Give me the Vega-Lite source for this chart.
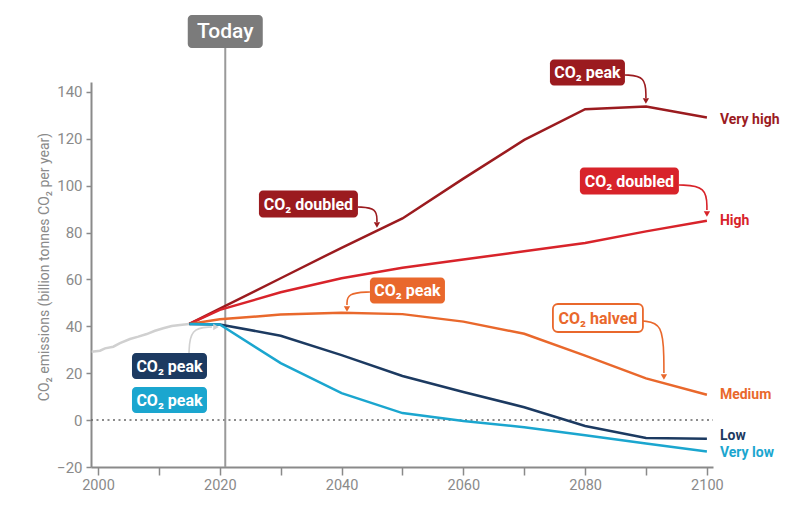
{
  "$schema": "https://vega.github.io/schema/vega-lite/v6.json",
  "width": 622,
  "height": 385,
  "autosize": {"type": "none"},
  "padding": {"left": 91, "top": 82, "right": 87, "bottom": 45},
  "background": "white",
  "config": {
    "view": {"stroke": null},
    "font": "Roboto, sans-serif"
  },
  "datasets": {
    "series": [
      {"scenario": "Historical", "year": 1998.96, "value": 29.2},
      {"scenario": "Historical", "year": 2000.33, "value": 29.6},
      {"scenario": "Historical", "year": 2001.15, "value": 30.6},
      {"scenario": "Historical", "year": 2002.51, "value": 31.3},
      {"scenario": "Historical", "year": 2003.61, "value": 32.8},
      {"scenario": "Historical", "year": 2005.25, "value": 34.6},
      {"scenario": "Historical", "year": 2006.62, "value": 35.6},
      {"scenario": "Historical", "year": 2008.0, "value": 36.7},
      {"scenario": "Historical", "year": 2009.36, "value": 38.1},
      {"scenario": "Historical", "year": 2010.72, "value": 39.2},
      {"scenario": "Historical", "year": 2012.1, "value": 40.1},
      {"scenario": "Historical", "year": 2013.46, "value": 40.6},
      {"scenario": "Historical", "year": 2015, "value": 41},
      {"scenario": "Very high", "year": 2015, "value": 41},
      {"scenario": "Very high", "year": 2020, "value": 47.5},
      {"scenario": "Very high", "year": 2030, "value": 60.5},
      {"scenario": "Very high", "year": 2040, "value": 73.5},
      {"scenario": "Very high", "year": 2050, "value": 86},
      {"scenario": "Very high", "year": 2060, "value": 103},
      {"scenario": "Very high", "year": 2070, "value": 119.5},
      {"scenario": "Very high", "year": 2080, "value": 132.6},
      {"scenario": "Very high", "year": 2090, "value": 133.7},
      {"scenario": "Very high", "year": 2100, "value": 129.1},
      {"scenario": "High", "year": 2015, "value": 41},
      {"scenario": "High", "year": 2020, "value": 47},
      {"scenario": "High", "year": 2030, "value": 54.5},
      {"scenario": "High", "year": 2040, "value": 60.5},
      {"scenario": "High", "year": 2050, "value": 65},
      {"scenario": "High", "year": 2060, "value": 68.5},
      {"scenario": "High", "year": 2070, "value": 72},
      {"scenario": "High", "year": 2080, "value": 75.5},
      {"scenario": "High", "year": 2090, "value": 80.5},
      {"scenario": "High", "year": 2100, "value": 85},
      {"scenario": "Medium", "year": 2015, "value": 41},
      {"scenario": "Medium", "year": 2020, "value": 43},
      {"scenario": "Medium", "year": 2030, "value": 45},
      {"scenario": "Medium", "year": 2040, "value": 45.8},
      {"scenario": "Medium", "year": 2050, "value": 45.2},
      {"scenario": "Medium", "year": 2060, "value": 42},
      {"scenario": "Medium", "year": 2070, "value": 36.8},
      {"scenario": "Medium", "year": 2080, "value": 27.5},
      {"scenario": "Medium", "year": 2090, "value": 17.8},
      {"scenario": "Medium", "year": 2100, "value": 10.8},
      {"scenario": "Low", "year": 2015, "value": 41},
      {"scenario": "Low", "year": 2020, "value": 40.8},
      {"scenario": "Low", "year": 2030, "value": 36},
      {"scenario": "Low", "year": 2040, "value": 27.7},
      {"scenario": "Low", "year": 2050, "value": 18.8},
      {"scenario": "Low", "year": 2060, "value": 12},
      {"scenario": "Low", "year": 2070, "value": 5.5},
      {"scenario": "Low", "year": 2080, "value": -2.5},
      {"scenario": "Low", "year": 2090, "value": -7.6},
      {"scenario": "Low", "year": 2100, "value": -8},
      {"scenario": "Very low", "year": 2015, "value": 41},
      {"scenario": "Very low", "year": 2020, "value": 40.8},
      {"scenario": "Very low", "year": 2030, "value": 24.3},
      {"scenario": "Very low", "year": 2040, "value": 11.5},
      {"scenario": "Very low", "year": 2050, "value": 3},
      {"scenario": "Very low", "year": 2060, "value": -0.4},
      {"scenario": "Very low", "year": 2070, "value": -3},
      {"scenario": "Very low", "year": 2080, "value": -6.5},
      {"scenario": "Very low", "year": 2090, "value": -10},
      {"scenario": "Very low", "year": 2100, "value": -13.4}
    ],
    "arrows": [
      {"scenario": "Very high", "id": "a1", "i": 0, "year": 2086.53, "value": 147.2},
      {"scenario": "Very high", "id": "a1", "i": 1, "year": 2089.98, "value": 146.8},
      {"scenario": "Very high", "id": "a1", "i": 2, "year": 2089.98, "value": 137.4},
      {"scenario": "Very high", "id": "a2", "i": 0, "year": 2042.69, "value": 90.89},
      {"scenario": "Very high", "id": "a2", "i": 1, "year": 2045.81, "value": 90.46},
      {"scenario": "Very high", "id": "a2", "i": 2, "year": 2045.81, "value": 84.49},
      {"scenario": "High", "id": "a3", "i": 0, "year": 2095.4, "value": 100.27},
      {"scenario": "High", "id": "a3", "i": 1, "year": 2100.0, "value": 99.84},
      {"scenario": "High", "id": "a3", "i": 2, "year": 2100.0, "value": 89.61},
      {"scenario": "Medium", "id": "a4", "i": 0, "year": 2044.66, "value": 54.64},
      {"scenario": "Medium", "id": "a4", "i": 1, "year": 2040.89, "value": 54.21},
      {"scenario": "Medium", "id": "a4", "i": 2, "year": 2040.89, "value": 49.09},
      {"scenario": "Medium", "id": "a5", "i": 0, "year": 2089.49, "value": 42.27},
      {"scenario": "Medium", "id": "a5", "i": 1, "year": 2092.77, "value": 41.41},
      {"scenario": "Medium", "id": "a5", "i": 2, "year": 2092.94, "value": 25.64},
      {"scenario": "Medium", "id": "a5", "i": 3, "year": 2092.94, "value": 20.09},
      {"scenario": "Historical", "id": "a6", "i": 0, "year": 2014.94, "value": 28.19},
      {"scenario": "Historical", "id": "a6", "i": 1, "year": 2015.11, "value": 39.28},
      {"scenario": "Historical", "id": "a6", "i": 2, "year": 2018.72, "value": 39.71}
    ],
    "heads": [
      {"scenario": "Very high", "dir": "down", "year": 2089.98, "value": 136.1},
      {"scenario": "Very high", "dir": "down", "year": 2045.81, "value": 83.21},
      {"scenario": "High", "dir": "down", "year": 2100.0, "value": 87.9},
      {"scenario": "Medium", "dir": "down", "year": 2040.89, "value": 47.39},
      {"scenario": "Medium", "dir": "down", "year": 2092.94, "value": 18.38},
      {"scenario": "Historical", "dir": "right", "year": 2019.38, "value": 39.71}
    ],
    "notes": [
      {"scenario": "Today", "kind": "today", "text": "Today", "year": 2020.9, "value": 165.74},
      {"scenario": "Very high", "kind": "peak", "text": "CO₂ peak", "year": 2080.38, "value": 148.3},
      {"scenario": "Very high", "kind": "doubled", "text": "CO₂ doubled", "year": 2034.56, "value": 92.17},
      {"scenario": "High", "kind": "doubled", "text": "CO₂ doubled", "year": 2087.27, "value": 101.98},
      {"scenario": "Medium", "kind": "peak", "text": "CO₂ peak", "year": 2050.82, "value": 55.28},
      {"scenario": "Medium", "kind": "halved", "text": "CO₂ halved", "year": 2082.1, "value": 43.55},
      {"scenario": "Low", "kind": "peak", "text": "CO₂ peak", "year": 2011.74, "value": 23.08},
      {"scenario": "Very low", "kind": "peak", "text": "CO₂ peak", "year": 2011.74, "value": 8.57}
    ],
    "labels": [
      {"scenario": "Very high", "text": "Very high", "year": 2100, "value": 127.99},
      {"scenario": "High", "text": "High", "year": 2100, "value": 84.92},
      {"scenario": "Medium", "text": "Medium", "year": 2100, "value": 10.71},
      {"scenario": "Low", "text": "Low", "year": 2100, "value": -6.78},
      {"scenario": "Very low", "text": "Very low", "year": 2100, "value": -14.03}
    ],
    "zero": [
      {"year": 1998.85, "value": 0},
      {"year": 2101, "value": 0}
    ]
  },
  "encoding": {
    "x": {
      "field": "year",
      "type": "quantitative",
      "scale": {"domain": [1998.85, 2101], "nice": false, "zero": false},
      "axis": {
        "values": [2000, 2010, 2020, 2030, 2040, 2050, 2060, 2070, 2080, 2090, 2100],
        "labelExpr": "datum.value % 20 == 0 ? datum.label : ''",
        "format": "d",
        "title": null,
        "grid": false,
        "tickSize": 8,
        "tickWidth": 1.5,
        "tickColor": "#8a8a8a",
        "domainColor": "#8a8a8a",
        "domainWidth": 2,
        "labelColor": "#8a8a8a",
        "labelFontSize": 14.5,
        "labelPadding": 3
      }
    },
    "y": {
      "field": "value",
      "type": "quantitative",
      "scale": {"domain": [-20, 144.2], "nice": false, "zero": false},
      "axis": {
        "values": [-20, 0, 20, 40, 60, 80, 100, 120, 140],
        "title": "CO₂ emissions (billion tonnes CO₂ per year)",
        "grid": false,
        "tickSize": 5,
        "tickWidth": 1.5,
        "tickColor": "#8a8a8a",
        "domainColor": "#8a8a8a",
        "domainWidth": 2,
        "labelColor": "#8a8a8a",
        "labelFontSize": 15,
        "labelPadding": 4,
        "titleColor": "#8a8a8a",
        "titleFontSize": 14,
        "titleFontWeight": "normal",
        "titleX": -40,
        "titleY": 184.5
      }
    }
  },
  "layer": [
    {
      "data": {"name": "zero"},
      "mark": {"type": "line", "strokeDash": [2, 3.5], "stroke": "#666666", "strokeWidth": 1.5},
      "encoding": {}
    },
    {
      "data": {"name": "notes"},
      "transform": [{"filter": "datum.kind == 'today'"}],
      "mark": {"type": "rule", "stroke": "#9a9a9a", "strokeWidth": 2},
      "encoding": {"y2": {"datum": -20}}
    },
    {
      "data": {"name": "series"},
      "mark": {"type": "line", "strokeWidth": 2.5},
      "encoding": {
        "color": {
          "field": "scenario", "type": "nominal", "legend": null,
          "scale": {"domain": ["Historical", "Very high", "High", "Medium", "Low", "Very low", "Today"],
                    "range": ["#d0d0d0", "#9b1b1f", "#d8232a", "#e9682c", "#1c3a61", "#1ba6cf", "#7b7b7b"]}
        },
        "detail": {"field": "scenario"}
      }
    },
    {
      "data": {"name": "arrows"},
      "mark": {"type": "line", "strokeWidth": 1.6, "interpolate": "basis"},
      "encoding": {
        "color": {"field": "scenario", "type": "nominal", "legend": null},
        "detail": {"field": "id"},
        "order": {"field": "i", "type": "quantitative"}
      }
    },
    {
      "data": {"name": "heads"},
      "mark": {"type": "point", "filled": true, "opacity": 1, "size": 40},
      "encoding": {
        "color": {"field": "scenario", "type": "nominal", "legend": null},
        "shape": {"field": "dir", "type": "nominal", "legend": null,
                  "scale": {"domain": ["down", "right"], "range": ["triangle-down", "triangle-right"]}}
      }
    },
    {
      "data": {"name": "notes"},
      "transform": [{"filter": "datum.kind == 'peak'"}],
      "mark": {"type": "rect", "width": 75, "height": 26, "cornerRadius": 4},
      "encoding": {"color": {"field": "scenario", "type": "nominal", "legend": null}}
    },
    {
      "data": {"name": "notes"},
      "transform": [{"filter": "datum.kind == 'doubled'"}],
      "mark": {"type": "rect", "width": 99, "height": 27, "cornerRadius": 4},
      "encoding": {"color": {"field": "scenario", "type": "nominal", "legend": null}}
    },
    {
      "data": {"name": "notes"},
      "transform": [{"filter": "datum.kind == 'halved'"}],
      "mark": {"type": "rect", "width": 90, "height": 28, "cornerRadius": 5, "fill": "white", "strokeWidth": 1.8},
      "encoding": {"stroke": {"field": "scenario", "type": "nominal", "legend": null, "scale": {"domain": ["Historical", "Very high", "High", "Medium", "Low", "Very low", "Today"],
                    "range": ["#d0d0d0", "#9b1b1f", "#d8232a", "#e9682c", "#1c3a61", "#1ba6cf", "#7b7b7b"]}}}
    },
    {
      "data": {"name": "notes"},
      "transform": [{"filter": "datum.kind == 'today'"}],
      "mark": {"type": "rect", "width": 75, "height": 33, "cornerRadius": 4},
      "encoding": {"color": {"field": "scenario", "type": "nominal", "legend": null}}
    },
    {
      "data": {"name": "notes"},
      "transform": [{"filter": "datum.kind == 'peak' || datum.kind == 'doubled'"}],
      "mark": {"type": "text", "color": "white", "fontSize": 16, "fontWeight": "bold", "align": "center", "baseline": "middle", "dy": 1},
      "encoding": {"text": {"field": "text"}}
    },
    {
      "data": {"name": "notes"},
      "transform": [{"filter": "datum.kind == 'halved'"}],
      "mark": {"type": "text", "fontSize": 16, "fontWeight": "bold", "align": "center", "baseline": "middle", "dy": 1},
      "encoding": {"text": {"field": "text"}, "color": {"field": "scenario", "type": "nominal", "legend": null}}
    },
    {
      "data": {"name": "notes"},
      "transform": [{"filter": "datum.kind == 'today'"}],
      "mark": {"type": "text", "color": "white", "fontSize": 21, "fontWeight": 500, "align": "center", "baseline": "middle", "dy": 1},
      "encoding": {"text": {"field": "text"}}
    },
    {
      "data": {"name": "labels"},
      "mark": {"type": "text", "fontSize": 14, "fontWeight": "bold", "align": "left", "baseline": "middle", "dx": 13},
      "encoding": {"text": {"field": "text"}, "color": {"field": "scenario", "type": "nominal", "legend": null}}
    }
  ]
}
